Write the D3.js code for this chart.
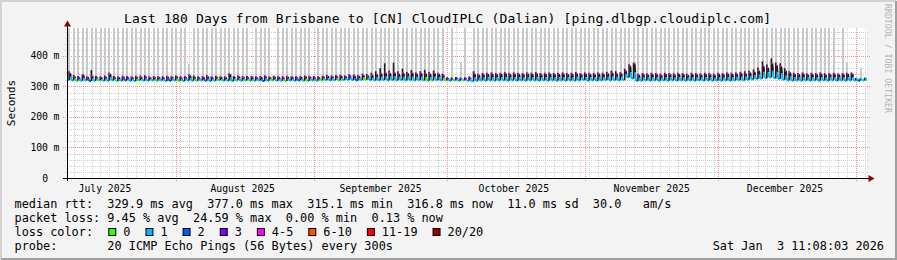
<!DOCTYPE html>
<html>
<head>
<meta charset="utf-8">
<script src="https://cdn.jsdelivr.net/npm/d3@7"></script>
<style>
body { margin: 0; background: #f3f3f3; }
svg text { font-family: "DejaVu Sans Mono", monospace; white-space: pre; }
</style>
</head>
<body>
<svg id="chart" width="897" height="260"></svg>
<script>
const title = "Last 180 Days from Brisbane to [CN] CloudIPLC (Dalian) [ping.dlbgp.cloudiplc.com]"
const endTime = Date.UTC(2026, 0, 3, 11, 8, 3)
const nDays = 180
const yMax = 491.8
const yTicks = [0, 100, 200, 300, 400]

// daily low / high of the median rtt (ms)
const medLo = [
  321,320,319,319,320,318,319,320,319,319,320,318,319,320,319,318,320,319,319,320,
  319,320,318,319,320,319,318,320,319,319,320,319,318,319,320,319,319,318,320,319,
  320,319,319,320,318,319,320,319,319,318,320,319,320,319,318,320,319,320,321,320,
  321,320,321,322,321,320,321,322,321,320,
  320,321,320,321,320,321,320,321,320,321,320,319,320,321,320,
  320,319,320,319,320,319,
  317,319,320,319,320,319,320,320,319,320,319,320,319,320,320,319,320,319,320,319,
  320,319,320,319,320,321,319,320,319,320,321,320,321,
  320,321,330,326,
  318,319,320,319,320,319,320,319,320,319,320,319,320,319,320,319,320,319,320,319,320,319,
  320,321,320,322,323,325,
  326,328,330,327,325,322,320,
  319,320,319,320,319,320,319,320,319,320,319,320,319,320,
  320,319,320
]
const medHi = [
  344,333,331,338,330,334,331,330,332,341,331,330,332,331,330,332,331,333,330,331,
  331,330,332,331,333,330,331,336,332,330,331,333,330,332,331,330,340,331,333,331,
  331,332,330,331,333,330,332,331,330,332,331,330,331,333,332,331,330,332,334,333,
  334,335,333,336,335,334,337,336,338,340,
  343,345,344,346,342,344,343,345,342,344,343,342,344,341,338,
  327,326,328,326,327,329,
  342,338,340,341,342,340,341,343,340,342,341,340,342,341,343,340,341,342,340,341,
  342,340,341,343,340,342,341,340,342,341,343,345,343,
  343,352,368,375,
  338,340,339,341,340,338,341,340,339,341,340,338,341,340,339,341,340,338,341,340,342,341,
  342,344,343,346,348,352,
  368,362,376,370,366,352,346,
  341,340,342,339,341,340,342,339,340,341,339,340,341,342,
  326,325,327
]
// top of the dense (dark) smoke around the median
const smokeDark = [
  350,338,334,340,333,354,334,333,336,345,334,333,335,334,333,335,336,337,333,334,
  334,333,335,334,336,333,334,340,336,333,334,337,333,335,334,333,343,334,336,334,
  334,335,333,334,336,333,335,334,333,335,334,333,334,336,335,334,333,335,338,336,
  337,338,336,340,339,338,342,341,345,350,
  360,376,352,378,350,358,348,354,346,350,355,348,352,345,342,
  330,329,331,329,330,333,
  350,342,344,345,346,344,345,347,344,346,345,344,346,345,347,344,345,346,344,345,
  346,344,345,347,344,346,345,344,346,345,348,352,350,
  347,358,373,378,
  342,344,343,345,344,342,345,344,343,345,344,342,345,344,343,345,344,342,345,344,346,345,
  346,348,350,352,356,362,
  382,372,392,378,376,360,350,
  345,344,346,343,345,344,346,343,344,345,343,344,345,346,
  328,327,329
]
// highest ping of the day (ms), drawn as light smoke
const smokeMax = [
  620,540,800,510,700,560,900,530,610,750,520,680,590,830,505,640,720,550,600,870,
  530,660,580,740,510,690,820,375,560,630,780,520,700,600,540,860,650,510,720,580,
  640,0,560,790,520,610,0,700,530,850,600,540,760,510,680,0,590,720,540,640,
  800,560,690,510,740,620,880,530,660,570,
  900,760,640,820,700,590,860,620,740,680,560,800,610,720,650,
  0,540,0,380,600,0,
  700,580,820,640,510,760,600,690,540,880,620,730,560,800,650,520,710,600,840,570,
  660,520,790,610,700,560,850,630,540,720,610,780,690,
  820,900,760,880,
  600,720,540,810,650,580,760,620,700,530,850,640,590,730,610,680,520,790,560,700,640,750,
  620,780,690,860,720,900,
  880,760,920,840,800,700,650,
  600,720,540,780,630,690,560,820,610,700,0,650,380,0,
  0,360,0
]
// loss colour index of the daily high and low part of the median line
const lossHi = [
  4,4,3,4,4,4,3,4,4,4,3,4,4,3,4,4,4,3,4,4,
  4,3,4,4,4,3,4,4,4,3,4,4,3,4,4,4,4,3,4,4,
  3,4,4,4,3,4,4,4,3,4,4,3,4,4,4,3,4,4,4,4,
  3,4,4,3,4,4,4,4,4,4,
  4,4,4,4,4,4,4,4,4,4,4,4,4,4,3,
  3,2,3,2,3,3,
  4,4,4,4,4,4,4,4,4,4,4,4,4,4,4,4,4,4,4,4,
  4,4,4,4,4,4,4,4,4,4,4,4,4,
  4,4,4,4,
  4,4,4,4,4,4,4,4,4,4,4,4,4,4,4,4,4,4,4,4,4,4,
  4,4,4,4,4,4,
  4,4,4,4,4,4,4,
  4,4,4,4,4,4,4,4,4,4,4,4,4,4,
  1,1,1
]
const lossLo = [
  1,1,0,1,1,2,1,0,1,1,1,0,1,2,1,1,0,1,1,1,
  0,1,1,2,1,0,1,1,1,0,1,2,1,1,0,1,1,1,0,1,
  1,0,1,1,2,1,0,1,1,0,1,1,2,1,0,1,1,0,1,1,
  1,0,1,1,1,2,1,0,1,1,
  1,1,1,1,1,1,1,1,1,1,1,0,1,1,1,
  0,1,0,1,0,1,
  1,1,1,1,1,1,1,1,1,1,1,1,1,1,1,1,1,1,1,1,
  1,1,1,1,1,1,1,1,1,1,1,1,1,
  1,1,1,1,
  1,1,1,1,1,1,1,1,1,1,1,1,1,1,1,1,1,1,1,1,1,1,
  1,1,1,1,1,1,
  1,1,1,1,1,1,1,
  1,1,1,1,1,1,1,1,1,1,1,1,1,1,
  1,2,1
]

const lossLabels = ["0", "1", "2", "3", "4-5", "6-10", "11-19", "20/20"]
const lossColors = ["#26ff00", "#00b8ff", "#0059ff", "#7e00ff", "#ff00ff", "#ff5500", "#ff0000", "#a10000"]
const smokeColor = "#1c1c1c"

const statLines = [
  "median rtt:  329.9 ms avg  377.0 ms max  315.1 ms min  316.8 ms now  11.0 ms sd  30.0   am/s",
  "packet loss: 9.45 % avg  24.59 % max  0.00 % min  0.13 % now",
  "loss color:",
  "probe:       20 ICMP Echo Pings (56 Bytes) every 300s"
]
const stamp = "Sat Jan  3 11:08:03 2026"

const DAY = 864e5
const startTime = endTime - nDays * DAY
const W = 897, H = 260
const plotL = 67, plotR = 867, plotT = 28, plotB = 178

const svg = d3.select("#chart")

svg.append("rect").attr("width", W).attr("height", H).attr("fill", "#f3f3f3")
svg.append("path").attr("d", "M1,259V1H896").attr("fill", "none").attr("stroke", "#d2d2d2").attr("stroke-width", 2)
svg.append("path").attr("d", "M1,259H896V1").attr("fill", "none").attr("stroke", "#a0a0a0").attr("stroke-width", 2)

const x = d3.scaleUtc().domain([new Date(startTime), new Date(endTime)]).range([plotL, plotR])
const y = d3.scaleLinear().domain([0, yMax]).range([plotB, plotT])

svg.append("rect").attr("x", plotL).attr("y", plotT).attr("width", plotR - plotL).attr("height", plotB - plotT).attr("fill", "#fff")

// grid
const minorY = d3.range(20, yMax, 20).filter(v => v % 100 !== 0)
svg.append("g").selectAll("line").data(minorY).join("line")
  .attr("x1", plotL - 2).attr("x2", plotR + 2)
  .attr("y1", d => Math.round(y(d)) + 0.5).attr("y2", d => Math.round(y(d)) + 0.5)
  .attr("stroke", "#cfcfcf").attr("stroke-dasharray", "1,1")

const minorX = d3.utcDay.range(new Date(startTime), new Date(endTime)).filter(d => Math.round(+d / DAY) % 2 === 0)
svg.append("g").selectAll("line").data(minorX).join("line")
  .attr("x1", d => Math.round(x(d)) + 0.5).attr("x2", d => Math.round(x(d)) + 0.5)
  .attr("y1", plotT).attr("y2", plotB + 2)
  .attr("stroke", "#cfcfcf").attr("stroke-dasharray", "1,1")

svg.append("g").selectAll("line").data(yTicks.filter(v => v > 0)).join("line")
  .attr("x1", plotL - 4).attr("x2", plotR + 3)
  .attr("y1", d => Math.round(y(d)) + 0.5).attr("y2", d => Math.round(y(d)) + 0.5)
  .attr("stroke", "#f09090").attr("stroke-dasharray", "1,1")

const months = d3.utcMonth.range(new Date(startTime), new Date(endTime))
svg.append("g").selectAll("line").data(months).join("line")
  .attr("x1", d => Math.round(x(d)) + 0.5).attr("x2", d => Math.round(x(d)) + 0.5)
  .attr("y1", plotT).attr("y2", plotB + 3)
  .attr("stroke", "#f09090").attr("stroke-dasharray", "1,1")

// data
svg.append("clipPath").attr("id", "plot").append("rect")
  .attr("x", plotL + 1).attr("y", plotT).attr("width", plotR - plotL - 1).attr("height", plotB - plotT)
const g = svg.append("g").attr("clip-path", "url(#plot)")

const days = d3.range(nDays)
const t = (i, f) => new Date(startTime + (i + f) * DAY)

// light smoke up to the day's highest ping
g.append("g").selectAll("rect").data(days.filter(i => smokeMax[i] > 0)).join("rect")
  .attr("x", i => Math.round(x(t(i, 0.55))) - 1).attr("width", 2)
  .attr("y", i => y(Math.min(smokeMax[i], yMax)))
  .attr("height", i => y(medHi[i]) - y(Math.min(smokeMax[i], yMax)))
  .attr("fill", "#c9c9c9")

const line = d3.line().x(d => x(d[0])).y(d => y(d[1]))
const segs = []
days.forEach(i => {
  const next = i < nDays - 1 ? medLo[i + 1] : medLo[i]
  const nextLoss = i < nDays - 1 ? lossLo[i + 1] : lossLo[i]
  const mid = (medHi[i] + next) / 2
  segs.push({ p: [[t(i, 0), medLo[i]], [t(i, 0.45), medLo[i]]], c: lossColors[lossLo[i]] })
  segs.push({ p: [[t(i, 0.7), medHi[i]], [t(i, 0.85), mid]], c: lossHi[i] === 4 ? smokeColor : lossColors[lossHi[i]] })
  segs.push({ p: [[t(i, 0.85), mid], [t(i, 1), next]], c: lossColors[nextLoss] })
})
g.append("g").selectAll("path").data(segs).join("path")
  .attr("d", d => line(d.p)).attr("fill", "none")
  .attr("stroke", d => d.c).attr("stroke-width", 2)

g.append("g").selectAll("rect").data(days).join("rect")
  .attr("x", i => x(t(i, 0.45)) - 0.7).attr("width", 1.6)
  .attr("y", i => y(smokeDark[i]))
  .attr("height", i => y(medLo[i]) - y(smokeDark[i]))
  .attr("fill", smokeColor)

g.append("g").selectAll("path").data(days).join("path")
  .attr("d", i => line([[t(i, 0.5), medHi[i]], [t(i, 0.72), medHi[i]]]))
  .attr("fill", "none").attr("stroke", i => lossColors[lossHi[i]]).attr("stroke-width", 2)

// axes
svg.append("line").attr("x1", plotL + 0.5).attr("x2", plotL + 0.5).attr("y1", plotB + 3).attr("y2", 24)
  .attr("stroke", "#000")
svg.append("line").attr("x1", plotL - 4).attr("x2", 870).attr("y1", plotB + 0.5).attr("y2", plotB + 0.5)
  .attr("stroke", "#000")
svg.append("path").attr("d", "M64,26.5L67.5,20.5L71,26.5Z").attr("fill", "#8b0000")
svg.append("path").attr("d", "M868.5,175L874.5,178.5L868.5,182Z").attr("fill", "#8b0000")

const yl = svg.append("g").style("font-size", "9.75px").attr("fill", "#000")
yl.selectAll("text.n").data(yTicks).join("text").attr("class", "n")
  .attr("x", 48).attr("y", d => y(d) + 3.5).attr("text-anchor", "end").text(d => d)
yl.selectAll("text.u").data(yTicks.filter(v => v > 0)).join("text").attr("class", "u")
  .attr("x", 53.5).attr("y", d => y(d) + 3.5).text("m")

const monthLabels = d3.utcMonth.range(d3.utcMonth.floor(new Date(startTime)), new Date(endTime))
  .map(m => d3.utcDay.offset(m, 15)).filter(d => +d >= startTime && +d <= endTime)
svg.append("g").style("font-size", "9.75px").selectAll("text").data(monthLabels).join("text")
  .attr("x", d => x(d)).attr("y", 191.5).attr("text-anchor", "middle")
  .text(d => d3.utcFormat("%B %Y")(d3.utcMonth.floor(d)))

svg.append("text").attr("transform", "translate(15,103) rotate(-90)").attr("text-anchor", "middle")
  .style("font-size", "11px").text("Seconds")

svg.append("text").attr("x", 124).attr("y", 23)
  .attr("textLength", 647).attr("lengthAdjust", "spacing")
  .style("font-size", "13px").text(title)

svg.append("text").attr("transform", "translate(885,4) rotate(90)")
  .attr("textLength", 109).attr("lengthAdjust", "spacingAndGlyphs")
  .style("font-size", "8.5px").attr("fill", "#b4b4b4").text("RRDTOOL / TOBI OETIKER")

// legend
const lg = svg.append("g").style("font-size", "11.86px")
lg.selectAll("text").data(statLines).join("text")
  .attr("x", 14.5).attr("y", (d, i) => 208 + i * 14).text(d => d)
lg.append("text").attr("x", 884).attr("y", 250).attr("text-anchor", "end").text(stamp)

let bx = 108.3
lossLabels.forEach((lab, i) => {
  lg.append("rect").attr("x", bx + 0.5).attr("y", 228.5).attr("width", 7).attr("height", 7)
    .attr("fill", lossColors[i]).attr("stroke", "#000")
  lg.append("text").attr("x", bx + 15).attr("y", 236).text(lab)
  bx += 15 + lab.length * 7.14 + 15
})
</script>
</body>
</html>
